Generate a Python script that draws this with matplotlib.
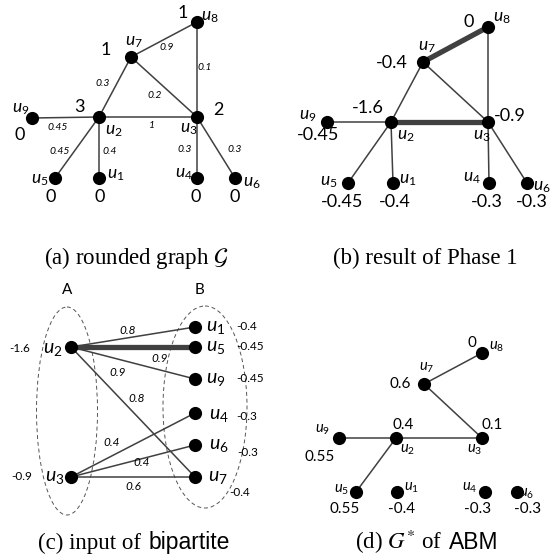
import matplotlib
matplotlib.use("Agg")
import matplotlib.pyplot as plt
from matplotlib.patches import Ellipse
from matplotlib.offsetbox import TextArea, HPacker, AnnotationBbox

plt.rcParams['font.family'] = ['Lato', 'DejaVu Sans']
plt.rcParams['mathtext.fontset'] = 'custom'
plt.rcParams['mathtext.rm'] = 'Lato'
plt.rcParams['mathtext.it'] = 'Lato:italic'

# ----------------------------- data ------------------------------------------
# (a) rounded graph: edges with weights, rounded node values
edges_a = [("u7", "u8", "0.9"), ("u8", "u3", "0.1"), ("u2", "u7", "0.3"),
           ("u7", "u3", "0.2"), ("u9", "u2", "0.45"), ("u2", "u3", "1"),
           ("u2", "u5", "0.45"), ("u2", "u1", "0.4"), ("u3", "u4", "0.3"),
           ("u3", "u6", "0.3")]
values_a = {"u8": "1", "u7": "1", "u2": "3", "u3": "2", "u9": "0",
            "u5": "0", "u1": "0", "u4": "0", "u6": "0"}

# (b) result of phase 1
edges_b = [("u7", "u8"), ("u8", "u3"), ("u2", "u7"), ("u7", "u3"), ("u9", "u2"),
           ("u2", "u3"), ("u2", "u5"), ("u2", "u1"), ("u3", "u4"), ("u3", "u6")]
matched_b = [("u7", "u8"), ("u2", "u3")]
values_b = {"u8": "0", "u7": "-0.4", "u2": "-1.6", "u3": "-0.9", "u9": "-0.45",
            "u5": "-0.45", "u1": "-0.4", "u4": "-0.3", "u6": "-0.3"}

# (c) bipartite input
side_a = ["u2", "u3"]
side_b = ["u1", "u5", "u9", "u4", "u6", "u7"]
edges_c = [("u2", "u1", "0.8"), ("u2", "u5", "0.9"), ("u2", "u9", "0.9"),
           ("u2", "u7", "0.8"), ("u3", "u4", "0.4"), ("u3", "u6", "0.4"),
           ("u3", "u7", "0.6")]
matched_c = [("u2", "u5")]
values_c = {"u2": "-1.6", "u3": "-0.9", "u1": "-0.4", "u5": "-0.45", "u9": "-0.45",
            "u4": "-0.3", "u6": "-0.3", "u7": "-0.4"}

# (d) G* of ABM
edges_d = [("u7", "u8"), ("u7", "u3"), ("u9", "u2"), ("u2", "u3"), ("u2", "u5")]
values_d = {"u8": "0", "u7": "0.6", "u2": "0.4", "u3": "0.1", "u9": "0.55",
            "u5": "0.55", "u1": "-0.4", "u4": "-0.3", "u6": "-0.3"}

# caption = (serif part, sans part)
captions = [(r"(a) rounded graph $\mathcal{G}$", ""),
            ("(b) result of Phase 1", ""),
            ("(c) input of", "bipartite"),
            (r"(d) $G^{*}$ of", "ABM")]

# ----------------------------- layout (pixels) -------------------------------
pos_a = {"u1": (99, 178), "u2": (99, 117), "u3": (197, 117), "u4": (197, 178),
         "u5": (55, 178), "u6": (235, 178), "u7": (131, 57), "u8": (197, 22),
         "u9": (32, 118)}
val_xy_a = {"u8": (183, 13), "u7": (106, 50), "u2": (79, 107), "u3": (218, 110),
            "u9": (20, 135), "u5": (51, 197), "u1": (100, 197), "u4": (196, 197),
            "u6": (235, 197)}
name_xy_a = {"u8": (210, 17), "u7": (134, 42), "u2": (114, 131), "u3": (189, 129),
             "u9": (21, 109), "u5": (40, 180), "u1": (116, 175), "u4": (184, 174),
             "u6": (252, 183)}
wt_xy_a = [(167, 48), (205, 68), (103, 83), (155, 95), (58, 127), (152, 126),
           (60, 152), (110, 152), (185, 150), (235, 150)]

pos_b = {"u1": (393, 183), "u2": (391, 122), "u3": (488, 122), "u4": (489, 183),
         "u5": (348, 183), "u6": (527, 183), "u7": (423, 62), "u8": (488, 27),
         "u9": (327, 122)}
val_xy_b = {"u8": (469, 22), "u7": (392, 63), "u2": (368, 108), "u3": (510, 116),
            "u9": (318, 135), "u5": (342, 202), "u1": (395, 202), "u4": (487, 202),
            "u6": (532, 202)}
name_xy_b = {"u8": (502, 18), "u7": (427, 47), "u2": (406, 136), "u3": (482, 136),
             "u9": (308, 116), "u5": (329, 182), "u1": (408, 180), "u4": (472, 178),
             "u6": (542, 187)}

xa, xb = 71, 195
ys_a = [347, 477]
ys_b = [327, 347, 379, 413, 445, 477]
pos_c = dict(list(zip(side_a, [(xa, y) for y in ys_a])) +
             list(zip(side_b, [(xb, y) for y in ys_b])))
val_xy_c = {"u2": (20, 348), "u3": (22, 477), "u1": (247, 327), "u5": (250, 347),
            "u9": (250, 379), "u4": (247, 417), "u6": (248, 452), "u7": (240, 492)}
name_xy_c = {"u2": (53, 349), "u3": (55, 478), "u1": (216, 328), "u5": (216, 348),
             "u9": (216, 380), "u4": (219, 415), "u6": (219, 446), "u7": (218, 478)}
wt_xy_c = [(128, 330), (160, 359), (118, 372), (137, 398), (112, 443),
           (142, 463), (133, 487)]

pos_d = {"u1": (397, 492), "u2": (396, 438), "u3": (482, 438), "u4": (485, 492),
         "u5": (356, 492), "u6": (517, 492), "u7": (424, 384), "u8": (482, 353),
         "u9": (339, 438)}
val_xy_d = {"u8": (472, 343), "u7": (400, 384), "u2": (403, 425), "u3": (492, 425),
            "u9": (320, 457), "u5": (345, 509), "u1": (402, 509), "u4": (478, 509),
            "u6": (528, 509)}
name_xy_d = {"u8": (497, 347), "u7": (427, 368), "u2": (408, 450), "u3": (475, 450),
             "u9": (323, 430), "u5": (342, 490), "u1": (412, 488), "u4": (470, 488),
             "u6": (527, 494)}

caption_xy = [(136, 258), (425, 258), (134, 542), (427, 542)]

EDGE = '#404040'

# ----------------------------- helpers ---------------------------------------
def draw_graph(ax, pos, edges, thick=(), lw=1.1, node_s=90):
    for e in edges:
        a, b = e[0], e[1]
        heavy = (a, b) in thick or (b, a) in thick
        ax.plot([pos[a][0], pos[b][0]], [pos[a][1], pos[b][1]],
                color=EDGE, lw=3.8 if heavy else lw, solid_capstyle='butt', zorder=1)
    xs = [p[0] for p in pos.values()]
    ys = [p[1] for p in pos.values()]
    ax.scatter(xs, ys, s=node_s, color='black', zorder=3, linewidths=0)

def node_names(ax, xy, size):
    for n, (x, y) in xy.items():
        ax.text(x, y, r"$\mathit{u}_{\mathit{%s}}$" % n[1:], fontsize=size,
                ha='center', va='center')

def node_values(ax, values, xy, size):
    for n, v in values.items():
        x, y = xy[n]
        ax.text(x, y, v, fontsize=size, ha='center', va='center')

def edge_weights(ax, edges, xy, size):
    for (a, b, w), (x, y) in zip(edges, xy):
        ax.text(x, y, w, fontsize=size, style='italic', ha='center', va='center')

# ----------------------------- figure ----------------------------------------
fig = plt.figure(figsize=(5.6, 5.56), dpi=100)
ax = fig.add_axes([0, 0, 1, 1])
ax.set_xlim(0, 560)
ax.set_ylim(556, 0)
ax.axis('off')

# (a)
draw_graph(ax, pos_a, edges_a)
node_names(ax, name_xy_a, 12.5)
node_values(ax, values_a, val_xy_a, 13)
edge_weights(ax, edges_a, wt_xy_a, 7.5)

# (b)
draw_graph(ax, pos_b, edges_b, thick=matched_b)
node_names(ax, name_xy_b, 12.5)
node_values(ax, values_b, val_xy_b, 13)

# (c)
for cx, cy, w, h in [(67, 411, 61, 208), (205, 407, 84, 202)]:
    ax.add_patch(Ellipse((cx, cy), w, h, fill=False, ls=(0, (4, 3)),
                         lw=0.7, ec='#555555', zorder=0))
ax.text(67, 290, "A", fontsize=11, ha='center', va='center')
ax.text(200, 290, "B", fontsize=11, ha='center', va='center')
draw_graph(ax, pos_c, edges_c, thick=matched_c)
node_names(ax, name_xy_c, 14)
node_values(ax, values_c, val_xy_c, 8.5)
edge_weights(ax, edges_c, wt_xy_c, 8.5)

# (d)
draw_graph(ax, pos_d, edges_d)
node_names(ax, name_xy_d, 10.5)
node_values(ax, values_d, val_xy_d, 11)

# captions: Times-like text, with sans-serif names where the paper used them
for (x, y), (serif, sans) in zip(caption_xy, captions):
    parts = [TextArea(serif, textprops=dict(fontsize=16.5, family='Liberation Serif',
                                            math_fontfamily='stix'))]
    if sans:
        parts.append(TextArea(sans, textprops=dict(fontsize=16.5,
                                                   family='Liberation Sans')))
    box = HPacker(children=parts, align='baseline', pad=0, sep=5)
    ax.add_artist(AnnotationBbox(box, (x, y), frameon=False,
                                 box_alignment=(0.5, 0.5)))

fig.savefig("out.png", dpi=100)
